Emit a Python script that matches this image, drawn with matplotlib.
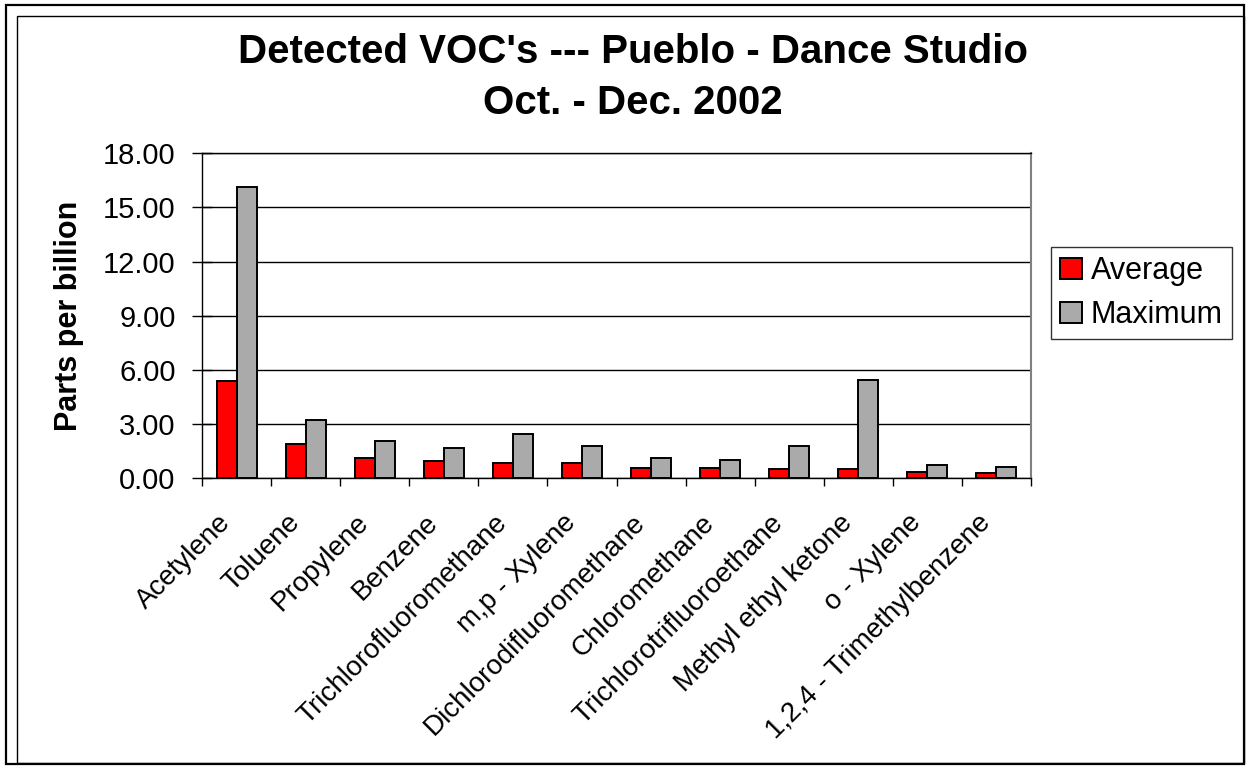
import matplotlib
matplotlib.use("Agg")
import matplotlib.pyplot as plt
from matplotlib.patches import Rectangle
import matplotlib.transforms as mtransforms
import numpy as np

categories = ["Acetylene", "Toluene", "Propylene", "Benzene", "Trichlorofluoromethane",
              "m,p - Xylene", "Dichlorodifluoromethane", "Chloromethane",
              "Trichlorotrifluoroethane", "Methyl ethyl ketone", "o - Xylene",
              "1,2,4 - Trimethylbenzene"]
average = [5.39, 1.88, 1.11, 0.94, 0.85, 0.83, 0.59, 0.55, 0.54, 0.54, 0.35, 0.30]
maximum = [16.12, 3.21, 2.07, 1.68, 2.47, 1.81, 1.13, 1.03, 1.81, 5.45, 0.72, 0.63]
yticks = [0, 3, 6, 9, 12, 15, 18]

plt.rcParams['font.family'] = ['Liberation Sans', 'DejaVu Sans']

W, H = 1253, 772
fig = plt.figure(figsize=(W / 100, H / 100), dpi=100)

# outer frames
fig.add_artist(Rectangle((6 / W, 1 - 764 / H), (1244 - 6) / W, (764 - 5) / H,
                         transform=fig.transFigure, fill=False, edgecolor='black', linewidth=1.6))
fig.add_artist(Rectangle((17 / W, 1 - 763 / H), (1244 - 17) / W, (763 - 16) / H,
                         transform=fig.transFigure, fill=False, edgecolor='black', linewidth=1.0))

left, right, top, bottom = 202, 1031, 153.3, 478.3
ax = fig.add_axes([left / W, 1 - bottom / H, (right - left) / W, (bottom - top) / H])

x = np.arange(len(categories)) + 0.5
bw = 0.29
ax.bar(x - bw / 2, average, bw, color='#ff0000', edgecolor='black', linewidth=1.4,
       label='Average', zorder=3)
ax.bar(x + bw / 2, maximum, bw, color='#aaaaaa', edgecolor='black', linewidth=1.4,
       label='Maximum', zorder=3)

ax.set_xlim(0, len(categories))
ax.set_ylim(0, 18)
ax.set_yticks(yticks)
ax.set_yticklabels([f"{v:.2f}" for v in yticks], fontsize=21)
ax.yaxis.grid(True, color='black', linewidth=1.0, zorder=0)
ax.tick_params(axis='y', direction='inout', length=14, width=1, pad=12)

ax.set_xticks(x)
ax.set_xticklabels(categories, rotation=45, ha='right', va='center',
                   rotation_mode='anchor', fontsize=20)
ax.tick_params(axis='x', which='major', length=0, pad=22)
ax.set_xticks(np.arange(len(categories) + 1), minor=True)
ax.tick_params(axis='x', which='minor', direction='out', length=6, width=1)
offset = mtransforms.ScaledTranslation(-10 / 100, -10 / 100, fig.dpi_scale_trans)
for lab in ax.get_xticklabels():
    lab.set_transform(lab.get_transform() + offset)

for s in ['left', 'bottom', 'top']:
    ax.spines[s].set_color('black')
    ax.spines[s].set_linewidth(1.0)
ax.spines['right'].set_color('#808080')
ax.spines['right'].set_linewidth(1.5)

ax.set_ylabel('Parts per billion', fontsize=22, fontweight='bold', labelpad=14)

fig.text(633 / W, 1 - 52 / H, "Detected VOC's --- Pueblo - Dance Studio",
         ha='center', va='center', fontsize=29, fontweight='bold')
fig.text(633 / W, 1 - 103 / H, "Oct. - Dec. 2002",
         ha='center', va='center', fontsize=29, fontweight='bold')

leg = fig.legend(loc='upper left', bbox_to_anchor=(1051 / W, 1 - 247 / H),
                 fontsize=22, frameon=True, fancybox=False, handlelength=0.7,
                 handleheight=0.7, handletextpad=0.3, borderpad=0.3, labelspacing=0.45,
                 borderaxespad=0)
leg.get_frame().set_edgecolor('black')
leg.get_frame().set_linewidth(1.0)

fig.savefig('out.png', dpi=100)
